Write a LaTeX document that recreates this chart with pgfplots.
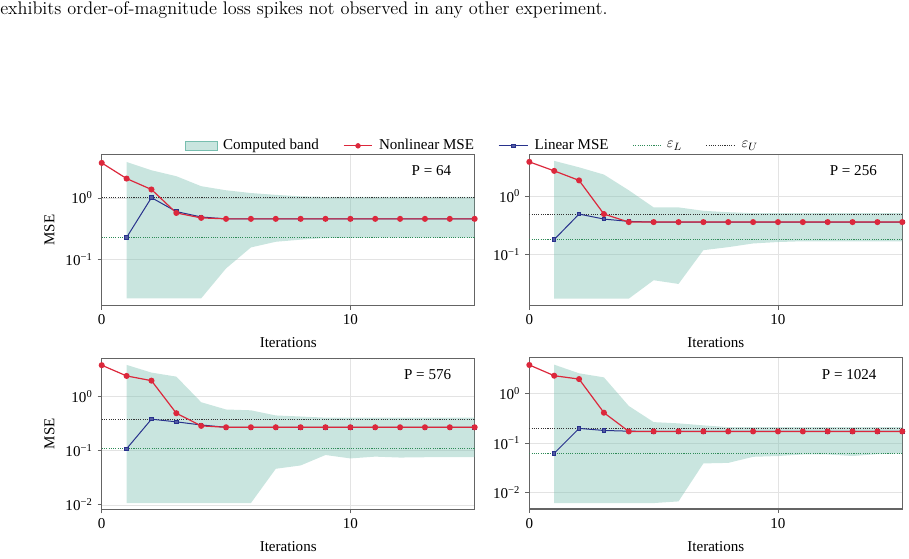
\documentclass[border=0pt]{standalone}
\usepackage{pgfplots}
\pgfplotsset{compat=1.18}
\usepackage{fontspec}
\newfontfamily\chartfont{Liberation Serif}

\definecolor{nlred}{RGB}{220,40,60}
\definecolor{linblue}{RGB}{40,50,140}
\definecolor{bandcol}{RGB}{120,190,175}
\definecolor{epsL}{RGB}{46,139,87}
\definecolor{epsU}{RGB}{50,50,50}
\definecolor{spine}{RGB}{100,100,100}

\pgfplotsset{
  every axis/.append style={
    scale only axis, width=279.7pt, height=113.3pt,
    xmin=0, xmax=15,
    xtick={0,10}, xticklabels={0,10},
    yminorticks=false,
    tick pos=left, tick align=outside, major tick length=3pt,
    tick style={spine, line width=0.6pt},
    axis line style={spine, line width=0.8pt},
    grid=major, grid style={gray!22, line width=0.5pt},
    xlabel=Iterations,
    xlabel style={at={(axis description cs:0.5,-0.247)}, anchor=center},
    ylabel style={at={(axis description cs:-0.14,0.5)}, anchor=center},
  },
  bandarea/.style={fill=bandcol, fill opacity=0.4, draw=none, forget plot},
  nlplot/.style={nlred, line width=0.9pt, mark=*, mark size=1.8pt, mark options={fill=nlred, draw=nlred}, forget plot},
  linplot/.style={linblue, line width=0.75pt, mark=square*, mark size=1.3pt, mark options={fill=linblue!80!white, draw=linblue}, forget plot},
  epslplot/.style={epsL, line width=0.6pt, dash pattern=on 0.8pt off 0.9pt, forget plot},
  epsuplot/.style={epsU, line width=0.6pt, dash pattern=on 0.8pt off 0.9pt, forget plot},
}

\begin{document}
\chartfont\fontsize{11.3}{13.5}\selectfont
\begin{tikzpicture}
\useasboundingbox (0,0) rectangle (681.75pt,419.25pt);

\node[anchor=west, inner sep=0pt] at (0pt,411.5pt)
  {\normalfont\fontsize{13.7}{16}\selectfont exhibits order-of-magnitude loss spikes not observed in any other experiment.};

% ---------------- P = 64 ----------------
\begin{semilogyaxis}[at={(76.3pt,190pt)}, anchor=south west,
  ymin=0.0178, ymax=5.05, ytick={0.1,1},
  yticklabels={10\textsuperscript{−1},10\textsuperscript{0}},
  ylabel=MSE,
  legend columns=5, legend cell align=left,
  legend style={at={(0.9946,1.058)}, anchor=center, draw=none, fill=none,
    /tikz/every even column/.append style={column sep=16pt},
    /tikz/every odd column/.append style={column sep=2.5pt}},
  ]
\addlegendimage{legend image code/.code={\fill[bandcol, fill opacity=0.4] (0cm,-0.13cm) rectangle (0.84cm,0.13cm);}}
\addlegendentry{Computed band}
\addlegendimage{legend image code/.code={\draw[nlred, line width=0.9pt] (0cm,0cm) -- (0.76cm,0cm);
  \fill[nlred] (0.38cm,0cm) circle (1.8pt);}}
\addlegendentry{Nonlinear MSE}
\addlegendimage{legend image code/.code={\draw[linblue, line width=0.75pt] (0cm,0cm) -- (0.78cm,0cm);
  \filldraw[fill=linblue!80!white, draw=linblue, line width=0.6pt] (0.39cm,0cm) +(-1.3pt,-1.3pt) rectangle +(1.3pt,1.3pt);}}
\addlegendentry{Linear MSE}
\addlegendimage{legend image code/.code={\draw[epsL, line width=0.6pt, dash pattern=on 0.8pt off 0.9pt] (0cm,0cm) -- (0.72cm,0cm);}}
\addlegendentry{$\varepsilon_L$}
\addlegendimage{legend image code/.code={\draw[epsU, line width=0.6pt, dash pattern=on 0.8pt off 0.9pt] (0cm,0cm) -- (0.76cm,0cm);}}
\addlegendentry{$\varepsilon_U$}

\addplot[bandarea] coordinates {
  (1,3.83) (2,2.81) (3,2.25) (4,1.55) (5,1.33) (6,1.20) (7,1.12) (8,1.06)
  (9,1.04) (10,1.04) (11,1.04) (12,1.04) (13,1.04) (14,1.04) (15,1.04)
  (15,0.226) (14,0.226) (13,0.226) (12,0.226) (11,0.226) (10,0.225) (9,0.223)
  (8,0.210) (7,0.194) (6,0.157) (5,0.0716) (4,0.0234) (3,0.0234) (2,0.0234) (1,0.0234)};
\addplot[epslplot] coordinates {(0,0.228) (15,0.228)};
\addplot[epsuplot] coordinates {(0,1.03) (15,1.03)};
\addplot[linplot] coordinates {
  (1,0.228) (2,1.01) (3,0.60) (4,0.49) (5,0.457) (6,0.457) (7,0.457) (8,0.457)
  (9,0.457) (10,0.457) (11,0.457) (12,0.457) (13,0.457) (14,0.457) (15,0.457)};
\addplot[nlplot] coordinates {
  (0,3.70) (1,2.06) (2,1.37) (3,0.57) (4,0.474) (5,0.457) (6,0.457) (7,0.457)
  (8,0.457) (9,0.457) (10,0.457) (11,0.457) (12,0.457) (13,0.457) (14,0.457) (15,0.457)};
\node[anchor=east] at (rel axis cs:0.951,0.893) {P = 64};
\end{semilogyaxis}

% ---------------- P = 256 ----------------
\begin{semilogyaxis}[at={(397pt,190pt)}, anchor=south west,
  ymin=0.01368, ymax=5.05, ytick={0.1,1},
  yticklabels={10\textsuperscript{−1},10\textsuperscript{0}},
  ]
\addplot[bandarea] coordinates {
  (1,3.95) (2,3.07) (3,2.31) (4,1.25) (5,0.64) (6,0.64) (7,0.56) (8,0.53)
  (9,0.51) (10,0.51) (11,0.51) (12,0.51) (13,0.51) (14,0.51) (15,0.51)
  (15,0.17) (14,0.17) (13,0.17) (12,0.17) (11,0.17) (10,0.165) (9,0.156)
  (8,0.135) (7,0.12) (6,0.032) (5,0.037) (4,0.018) (3,0.018) (2,0.018) (1,0.018)};
\addplot[epslplot] coordinates {(0,0.185) (15,0.185)};
\addplot[epsuplot] coordinates {(0,0.493) (15,0.493)};
\addplot[linplot] coordinates {
  (1,0.182) (2,0.493) (3,0.405) (4,0.37) (5,0.36) (6,0.36) (7,0.36) (8,0.36)
  (9,0.36) (10,0.36) (11,0.36) (12,0.36) (13,0.36) (14,0.36) (15,0.36)};
\addplot[nlplot] coordinates {
  (0,3.80) (1,2.67) (2,1.84) (3,0.493) (4,0.36) (5,0.36) (6,0.36) (7,0.36)
  (8,0.36) (9,0.36) (10,0.36) (11,0.36) (12,0.36) (13,0.36) (14,0.36) (15,0.36)};
\node[anchor=east] at (rel axis cs:0.946,0.892) {P = 256};
\end{semilogyaxis}

% ---------------- P = 576 ----------------
\begin{semilogyaxis}[at={(76.3pt,37.3pt)}, anchor=south west,
  ymin=0.0083, ymax=5.15, ytick={0.01,0.1,1},
  yticklabels={10\textsuperscript{−2},10\textsuperscript{−1},10\textsuperscript{0}},
  ylabel=MSE,
  ]
\addplot[bandarea] coordinates {
  (1,3.87) (2,2.79) (3,2.35) (4,0.79) (5,0.58) (6,0.56) (7,0.45) (8,0.43)
  (9,0.41) (10,0.41) (11,0.41) (12,0.41) (13,0.41) (14,0.41) (15,0.41)
  (15,0.076) (14,0.076) (13,0.076) (12,0.075) (11,0.078) (10,0.0723) (9,0.0836)
  (8,0.0536) (7,0.0465) (6,0.0108) (5,0.0108) (4,0.0108) (3,0.0108) (2,0.0108) (1,0.0108)};
\addplot[epslplot] coordinates {(0,0.109) (15,0.109)};
\addplot[epsuplot] coordinates {(0,0.384) (15,0.384)};
\addplot[linplot] coordinates {
  (1,0.109) (2,0.384) (3,0.343) (4,0.30) (5,0.272) (6,0.272) (7,0.272) (8,0.272)
  (9,0.272) (10,0.272) (11,0.272) (12,0.272) (13,0.272) (14,0.272) (15,0.272)};
\addplot[nlplot] coordinates {
  (0,3.82) (1,2.42) (2,1.98) (3,0.495) (4,0.289) (5,0.272) (6,0.272) (7,0.272)
  (8,0.272) (9,0.272) (10,0.272) (11,0.272) (12,0.272) (13,0.272) (14,0.272) (15,0.272)};
\node[anchor=east] at (rel axis cs:0.951,0.894) {P = 576};
\end{semilogyaxis}

% ---------------- P = 1024 ----------------
\begin{semilogyaxis}[at={(397pt,37.5pt)}, anchor=south west,
  ymin=0.00471, ymax=5.2, ytick={0.01,0.1,1},
  yticklabels={10\textsuperscript{−2},10\textsuperscript{−1},10\textsuperscript{0}},
  ]
\addplot[bandarea] coordinates {
  (1,3.80) (2,2.55) (3,2.11) (4,0.56) (5,0.265) (6,0.25) (7,0.228) (8,0.21)
  (9,0.21) (10,0.21) (11,0.21) (12,0.21) (13,0.21) (14,0.21) (15,0.21)
  (15,0.062) (14,0.060) (13,0.055) (12,0.059) (11,0.059) (10,0.055) (9,0.053)
  (8,0.040) (7,0.039) (6,0.0067) (5,0.0062) (4,0.0062) (3,0.0062) (2,0.0062) (1,0.0062)};
\addplot[epslplot] coordinates {(0,0.0624) (15,0.0624)};
\addplot[epsuplot] coordinates {(0,0.2) (15,0.2)};
\addplot[linplot] coordinates {
  (1,0.0624) (2,0.198) (3,0.18) (4,0.174) (5,0.172) (6,0.172) (7,0.172) (8,0.172)
  (9,0.172) (10,0.172) (11,0.172) (12,0.172) (13,0.172) (14,0.172) (15,0.172)};
\addplot[nlplot] coordinates {
  (0,3.75) (1,2.28) (2,1.95) (3,0.41) (4,0.172) (5,0.172) (6,0.172) (7,0.172)
  (8,0.172) (9,0.172) (10,0.172) (11,0.172) (12,0.172) (13,0.172) (14,0.172) (15,0.172)};
\node[anchor=east] at (rel axis cs:0.945,0.889) {P = 1024};
\end{semilogyaxis}
\end{tikzpicture}
\end{document}
